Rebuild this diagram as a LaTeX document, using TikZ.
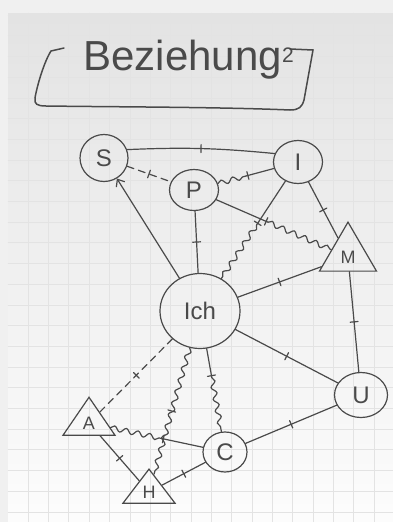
\documentclass[tikz,border=0pt]{standalone}
\usepackage{fontspec}
\setmainfont{Liberation Sans}
\usepackage{tikz}
\usetikzlibrary{arrows.meta, positioning, shapes.geometric, calc, decorations.pathmorphing, decorations.markings}
\definecolor{pencil}{HTML}{4A4A4A}

\begin{document}
\begin{tikzpicture}[
    x=1pt, y=-1pt,
    color=pencil,
    line width=1.2pt,
    line cap=round,
    every node/.style={font=\fontsize{24}{24}\selectfont},
    person/.style={ellipse, draw, inner sep=0pt},
    group/.style={isosceles triangle, shape border rotate=90, isosceles triangle stretches, draw, inner sep=0pt, font=\fontsize{18}{18}\selectfont},
    rel/.style={postaction={decorate, decoration={markings, mark=at position #1 with {\draw[solid] (0,-4) -- (0,4);}}}},
    rel/.default=0.5,
    wave/.style={decorate, decoration={snake, amplitude=2.5pt, segment length=12pt}},
    arrow/.style={-{Straight Barb[length=6pt, width=10pt]}},
    gridline/.style={draw=black!11, line width=0.5pt}
]

\useasboundingbox (0,0) rectangle (393,522);
\fill[black!6] (0,0) rectangle (393,522);
\fill[top color=black!11, bottom color=black!1] (8,13) rectangle (393,522);
\foreach \i in {0,...,18} \draw[gridline] ({28+20.35*\i},13) -- ({28+20.35*\i},522);
\foreach \j in {0,...,24} \draw[gridline] (8,{15+20.7*\j}) -- (393,{15+20.7*\j});

\node[anchor=base west, inner sep=0pt, font=\fontsize{42}{42}\selectfont] (title) at (83,70) {Beziehung\raisebox{8pt}{\fontsize{21}{21}\selectfont 2}};
\draw[line width=1.5pt] (64,48) -- (51,51) .. controls (44,62) and (37,86) .. (35,98) .. controls (34,104) and (37,106) .. (46,106) .. controls (120,107) and (220,107) .. (290,110) .. controls (299,110) and (302,107) .. (304,100) -- (313,50) -- (290,49);

\node[person, minimum width=48pt, minimum height=47pt] (S) at (104,158) {S};
\node[person, minimum width=49pt, minimum height=41pt] (P) at (194,190) {P};
\node[person, minimum width=49pt, minimum height=43pt] (I) at (298,162) {I};
\node[group, minimum width=57pt, minimum height=49pt] (M) at (348,257) {M};
\node[person, minimum width=80pt, minimum height=75pt] (ich) at (200,311) {Ich};
\node[person, minimum width=53pt, minimum height=45pt] (U) at (361,395) {U};
\node[person, minimum width=44pt, minimum height=40pt] (C) at (225,452) {C};
\node[group, minimum width=52pt, minimum height=38pt] (A) at (89,423) {A};
\node[group, minimum width=52pt, minimum height=34pt] (H) at (149,492) {H};

\path (P) -- (I) coordinate[pos=0.5] (pi);
\path (P) -- (M) coordinate[pos=0.45] (pm);
\path (I) -- (ich) coordinate[pos=0.45] (ii);
\path (ich) -- (C) coordinate[pos=0.35] (ic);
\path (A) -- (C) coordinate[pos=0.55] (ac);

\draw[rel] (S.20) to[bend left=4] (I.160);
\draw[dash pattern=on 7pt off 5pt, rel] (S) -- (P);
\draw[wave] (P) -- (pi);
\draw[rel=2pt] (pi) -- (I);
\draw[rel] (P) -- (ich);
\draw[rel=-2pt] (P) -- (pm);
\draw[wave] (pm) -- (M);
\draw[rel] (I) -- (M);
\draw[rel=-2pt] (I) -- (ii);
\draw[wave] (ii) -- (ich);
\draw[arrow] (ich) -- (S);
\draw[rel] (ich) -- (M);
\draw[rel] (M) -- (U);
\draw[rel] (ich) -- (U);
\draw[rel] (U) -- (C);
\draw[dash pattern=on 7pt off 5pt, rel] (ich) -- (A);
\draw[wave] (ich) -- (H);
\path[rel] (ich) -- (H);
\draw[rel=-2pt] (ich) -- (ic);
\draw[wave] (ic) -- (C);
\draw[wave] (A) -- (ac);
\draw[rel=2pt] (ac) -- (C);
\draw[rel] (A) -- (H);
\draw[rel] (H) -- (C);

\end{tikzpicture}
\end{document}
